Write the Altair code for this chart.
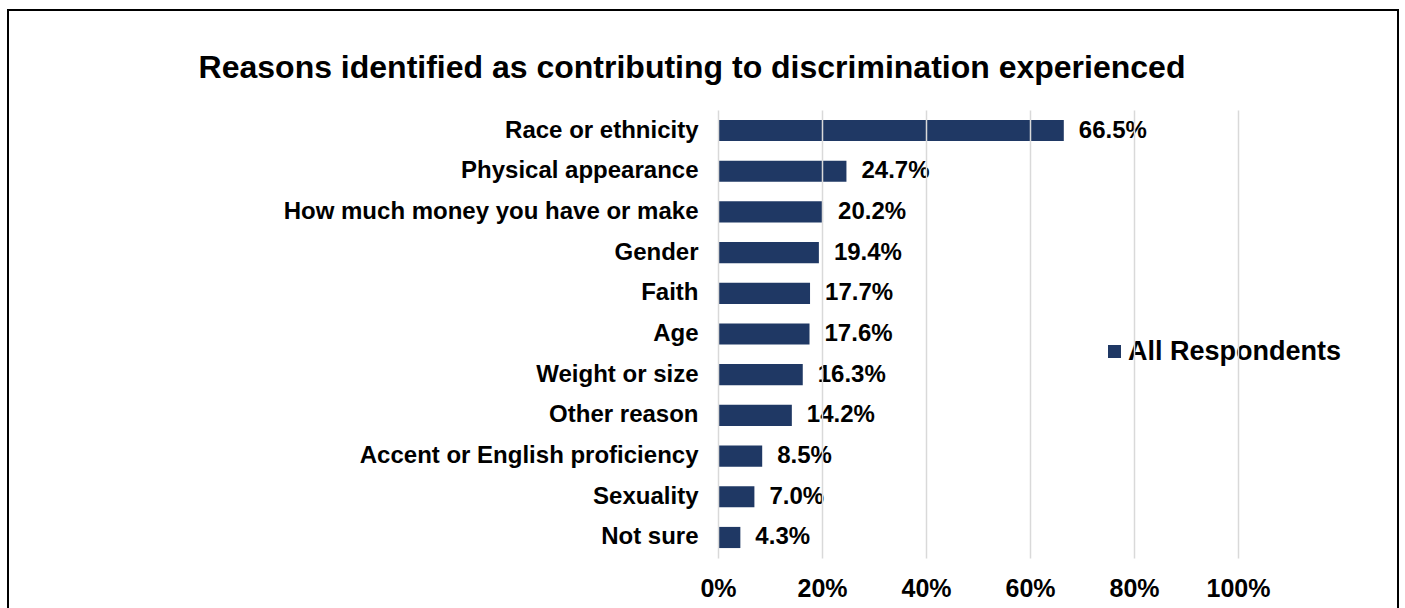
import altair as alt
import pandas as pd

TITLE = "Reasons identified as contributing to discrimination experienced"
categories = ["Race or ethnicity", "Physical appearance", "How much money you have or make",
              "Gender", "Faith", "Age", "Weight or size", "Other reason",
              "Accent or English proficiency", "Sexuality", "Not sure"]
values = [66.5, 24.7, 20.2, 19.4, 17.7, 17.6, 16.3, 14.2, 8.5, 7.0, 4.3]
series_name = "All Respondents"
x_ticks = [0, 20, 40, 60, 80, 100]

df = pd.DataFrame({
    "reason": categories,
    "value": values,
    "series": [series_name] * len(categories),
    "label": [f"{v:.1f}%" for v in values],
})

FONT = "Liberation Sans"
BAR = "#1F3864"

y_enc = alt.Y("reason:N", sort=categories, title=None,
              scale=alt.Scale(paddingInner=0.48, paddingOuter=0.244),
              axis=alt.Axis(labelFont=FONT, labelFontSize=24, labelFontWeight="bold",
                            labelColor="#000000", labelPadding=20, ticks=False,
                            domain=False, grid=False, labelLimit=600))
x_enc = alt.X("value:Q", title=None,
              scale=alt.Scale(domain=[0, 100], nice=False),
              axis=alt.Axis(values=x_ticks, labelExpr="datum.value + '%'",
                            labelFont=FONT, labelFontSize=25, labelFontWeight="bold",
                            labelColor="#000000", labelPadding=18, ticks=False,
                            labelFlush=False, labelOverlap=False,
                            domain=False, grid=True, gridColor="#D9D9D9",
                            gridWidth=1.5, zindex=1))

bars = alt.Chart(df).mark_bar().encode(
    y=y_enc,
    x=x_enc,
    color=alt.Color("series:N", title=None,
                    scale=alt.Scale(domain=[series_name], range=[BAR]),
                    legend=alt.Legend(orient="none", legendX=383, legendY=228,
                                      symbolType="square", symbolSize=169,
                                      symbolStrokeWidth=0, symbolFillColor=BAR,
                                      labelFont=FONT, labelFontSize=27,
                                      labelFontWeight="bold", labelColor="#000000",
                                      labelOffset=0, labelLimit=400, padding=0)),
)

labels = alt.Chart(df).mark_text(
    align="left", baseline="middle", dx=15, font=FONT, fontSize=24,
    fontWeight="bold", color="#000000"
).encode(
    y=alt.Y("reason:N", sort=categories),
    x=alt.X("value:Q"),
    text="label:N",
)

title = alt.Chart(pd.DataFrame({"t": [TITLE]})).mark_text(
    align="center", baseline="middle", font=FONT, fontSize=32,
    fontWeight="bold", color="#000000"
).encode(text="t:N", x=alt.value(-26), y=alt.value(-42))

frame = alt.Chart(pd.DataFrame({"k": [0]})).mark_rect(
    fill=None, stroke="#000000", strokeWidth=2
).encode(x=alt.value(-710), x2=alt.value(680), y=alt.value(-100), y2=alt.value(520))

chart = alt.layer(frame, bars, labels, title).properties(
    width=520, height=448,
    padding={"left": 718, "top": 110, "right": 167, "bottom": 50},
    autosize=alt.AutoSizeParams(type="none"),
    background="#FFFFFF",
).configure_view(stroke=None)

chart.save("out.html", embed_options={"renderer": "svg", "actions": False})
